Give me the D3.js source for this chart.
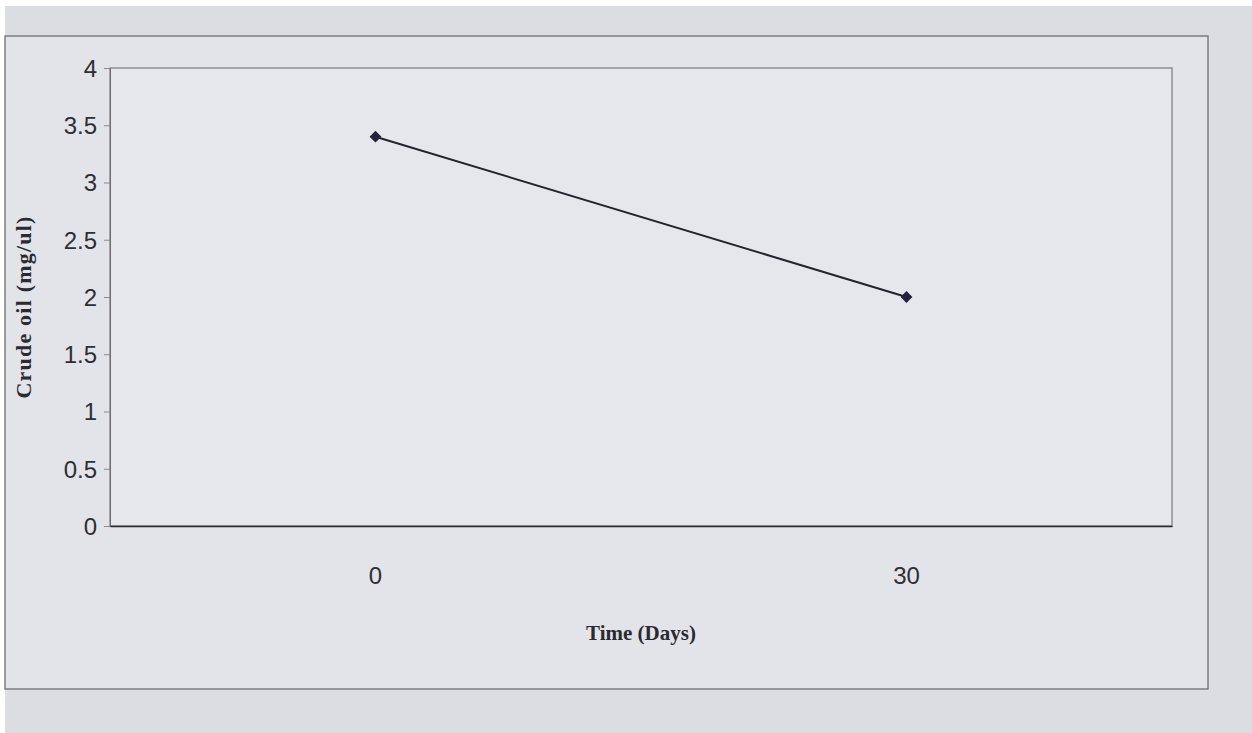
<!DOCTYPE html>
<html><head><meta charset="utf-8">
<script src="https://cdn.jsdelivr.net/npm/d3@7"></script>
<style>
html,body{margin:0;padding:0;background:#fff;}
svg{display:block;}
</style></head>
<body>
<script>
const categories = ["0", "30"];
const values = [3.4, 2.0];
const yTicks = [0, 0.5, 1, 1.5, 2, 2.5, 3, 3.5, 4];
const xTitle = "Time (Days)";
const yTitle = "Crude oil (mg/ul)";

const W = 1252, H = 733;
const svg = d3.select("body").append("svg").attr("width", W).attr("height", H);

// paper background
svg.append("rect").attr("x", 5).attr("y", 6).attr("width", W - 5).attr("height", H - 6).attr("fill", "#dcdde3");
// outer chart frame
svg.append("rect").attr("x", 5).attr("y", 36).attr("width", 1203).attr("height", 653)
  .attr("fill", "#e2e4e9").attr("stroke", "#6e6e74").attr("stroke-width", 1.3);

const m = {left: 110, right: 1172, top: 68, bottom: 526};
const x = d3.scaleBand().domain(categories).range([m.left, m.right]).paddingInner(0).paddingOuter(0);
const y = d3.scaleLinear().domain([0, 4]).range([m.bottom, m.top]);

// plot area
svg.append("rect").attr("x", m.left).attr("y", m.top).attr("width", m.right - m.left).attr("height", m.bottom - m.top)
  .attr("fill", "#e5e7ec").attr("stroke", "#7a7a80").attr("stroke-width", 1.2);

// y axis
const yAxis = svg.append("g").attr("transform", `translate(${m.left},0)`)
  .call(d3.axisLeft(y).tickValues(yTicks).tickSize(6).tickPadding(7).tickFormat(d => String(d)));
yAxis.select(".domain").attr("stroke", "#6a6a70");
yAxis.selectAll(".tick line").attr("stroke", "#8a8a90");
yAxis.selectAll(".tick text").attr("font-family", "Liberation Sans, Arial, sans-serif")
  .attr("font-size", 24).attr("fill", "#2e2e33").attr("dy", "0.35em");

// x axis
const xAxis = svg.append("g").attr("transform", `translate(0,${m.bottom})`)
  .call(d3.axisBottom(x).tickSize(0).tickPadding(41));
xAxis.select(".domain").attr("stroke", "#2a2a30").attr("stroke-width", 1.6);
xAxis.selectAll(".tick text").attr("font-family", "Liberation Sans, Arial, sans-serif")
  .attr("font-size", 24).attr("fill", "#2e2e33");

// line
const pts = categories.map((c, i) => [x(c) + x.bandwidth() / 2, y(values[i])]);
svg.append("path").datum(pts).attr("d", d3.line()).attr("fill", "none")
  .attr("stroke", "#23232e").attr("stroke-width", 2);
svg.selectAll(".mk").data(pts).enter().append("path")
  .attr("transform", d => `translate(${d[0]},${d[1]}) rotate(45)`)
  .attr("d", d3.symbol().type(d3.symbolSquare).size(70))
  .attr("fill", "#25233a");

// titles
svg.append("text").attr("x", 641).attr("y", 640).attr("text-anchor", "middle")
  .attr("font-family", "Liberation Serif, Times New Roman, serif").attr("font-weight", "bold")
  .attr("font-size", 21).attr("fill", "#2a2a30").text(xTitle);
svg.append("text").attr("transform", `translate(31,${(m.top + m.bottom) / 2 + 10}) rotate(-90)`)
  .attr("text-anchor", "middle").attr("letter-spacing", 1.2)
  .attr("font-family", "Liberation Serif, Times New Roman, serif").attr("font-weight", "bold")
  .attr("font-size", 22).attr("fill", "#2a2a30").text(yTitle);
</script>
</body></html>
